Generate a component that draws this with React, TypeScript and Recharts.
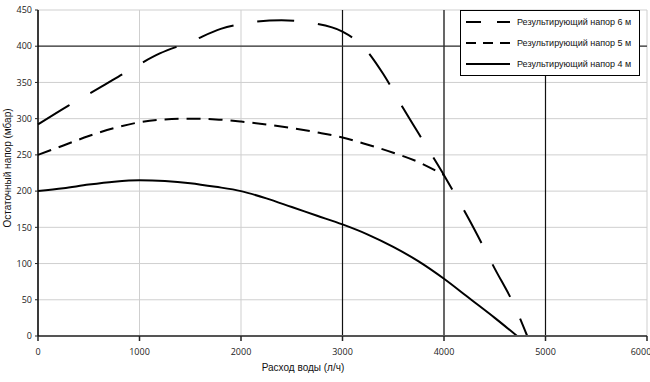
import React from "react";
import {
  LineChart, Line, XAxis, YAxis, CartesianGrid, ReferenceLine, Label,
} from "recharts";

// ─── data ───
const flow6 = [0, 300, 600, 900, 1200, 1500, 1800, 2100, 2400, 2700, 3000, 3200, 3400, 3600, 3800, 4000, 4250, 4500, 4700, 4820];
const head6 = [292, 318, 342, 367, 390, 406, 424, 433, 436, 432, 420, 400, 362, 314, 268, 222, 160, 93, 40, 0];

const flow5 = [0, 250, 500, 750, 1000, 1250, 1500, 1750, 2000, 2250, 2500, 2750, 3000, 3250, 3500, 3750, 4000];
const head5 = [250, 263, 276, 287, 295, 299, 300, 299, 296, 292, 287, 281, 274, 264, 253, 240, 222];

const flow4 = [0, 250, 500, 750, 1000, 1250, 1500, 1750, 2000, 2250, 2500, 2750, 3000, 3250, 3500, 3750, 4000, 4250, 4500, 4720];
const head4 = [200, 204, 209, 213, 215, 214, 211, 206, 200, 190, 178, 166, 154, 140, 123, 103, 79, 52, 25, 0];

const xTicks = [0, 1000, 2000, 3000, 4000, 5000, 6000];
const yTicks = [0, 50, 100, 150, 200, 250, 300, 350, 400, 450];
const darkX = [3000, 4000, 5000];
const darkY = [400];

const SERIES = [
  { key: "h6", name: "Результирующий напор 6 м", flow: flow6, head: head6, dash: "37 24", legendDash: "15 16" },
  { key: "h5", name: "Результирующий напор 5 м", flow: flow5, head: head5, dash: "14 8", legendDash: "10 7" },
  { key: "h4", name: "Результирующий напор 4 м", flow: flow4, head: head4, dash: undefined, legendDash: undefined },
];

const FONT = "'Liberation Sans', Arial, sans-serif";
const TICK = { fontSize: 9, fill: "#222", fontFamily: "'Open Sans', sans-serif" };

// legend drawn as an overlay box (covers the grid lines beneath it like the original)
function LegendBox() {
  return (
    <div
      style={{
        position: "absolute", left: 460, top: 10, width: 180, height: 66,
        border: "1px solid #000", background: "#fff", boxSizing: "border-box",
        fontFamily: FONT, fontSize: 9, color: "#111", paddingTop: 0,
      }}
    >
      {SERIES.map((s) => (
        <div key={s.key} style={{ display: "flex", alignItems: "center", height: 21 }}>
          <svg width={50} height={10} style={{ marginLeft: 5 }}>
            <line x1={0} y1={5} x2={44} y2={5} stroke="#000" strokeWidth={2} strokeDasharray={s.legendDash} />
          </svg>
          <span style={{ marginLeft: 1 }}>{s.name}</span>
        </div>
      ))}
    </div>
  );
}

export default function App() {
  return (
    <div style={{ position: "absolute", left: 0, top: 0, width: 650, height: 382, background: "#fff" }}>
      <LineChart width={650} height={382} margin={{ top: 10, right: 3, left: 8, bottom: 26 }}>
        <CartesianGrid stroke="#cfcfcf" strokeWidth={1} />
        <XAxis
          type="number"
          dataKey="x"
          domain={[0, 6000]}
          ticks={xTicks}
          height={20}
          tick={TICK}
          tickSize={5}
          tickMargin={8}
          axisLine={{ stroke: "#555", strokeWidth: 2 }}
          tickLine={{ stroke: "#222", strokeWidth: 1.5 }}
        >
          <Label
            content={() => (
              <text x={303} y={371} textAnchor="middle" fontSize={10} fontFamily={FONT} fill="#111">
                Расход воды (л/ч)
              </text>
            )}
          />
        </XAxis>
        <YAxis
          type="number"
          domain={[0, 450]}
          ticks={yTicks}
          width={30}
          tick={TICK}
          tickSize={3}
          tickMargin={3}
          axisLine={{ stroke: "#000", strokeWidth: 1.5 }}
          tickLine={{ stroke: "#222" }}
        >
          <Label
            content={() => (
              <text
                x={11}
                y={168}
                textAnchor="middle"
                fontSize={10}
                fontFamily={FONT}
                fill="#111"
                transform="rotate(-90 11 168)"
              >
                Остаточный напор (мбар)
              </text>
            )}
          />
        </YAxis>
        {darkX.map((v) => (
          <ReferenceLine key={"x" + v} x={v} stroke="#111" strokeWidth={1.2} />
        ))}
        {darkY.map((v) => (
          <ReferenceLine key={"y" + v} y={v} stroke="#333" strokeWidth={1.2} />
        ))}
        {SERIES.map((s) => (
          <Line
            key={s.key}
            data={s.flow.map((f, i) => ({ x: f, [s.key]: s.head[i] }))}
            dataKey={s.key}
            name={s.name}
            type="monotone"
            stroke="#000"
            strokeWidth={2}
            strokeDasharray={s.dash}
            dot={false}
            isAnimationActive={false}
          />
        ))}
      </LineChart>
      <LegendBox />
    </div>
  );
}
